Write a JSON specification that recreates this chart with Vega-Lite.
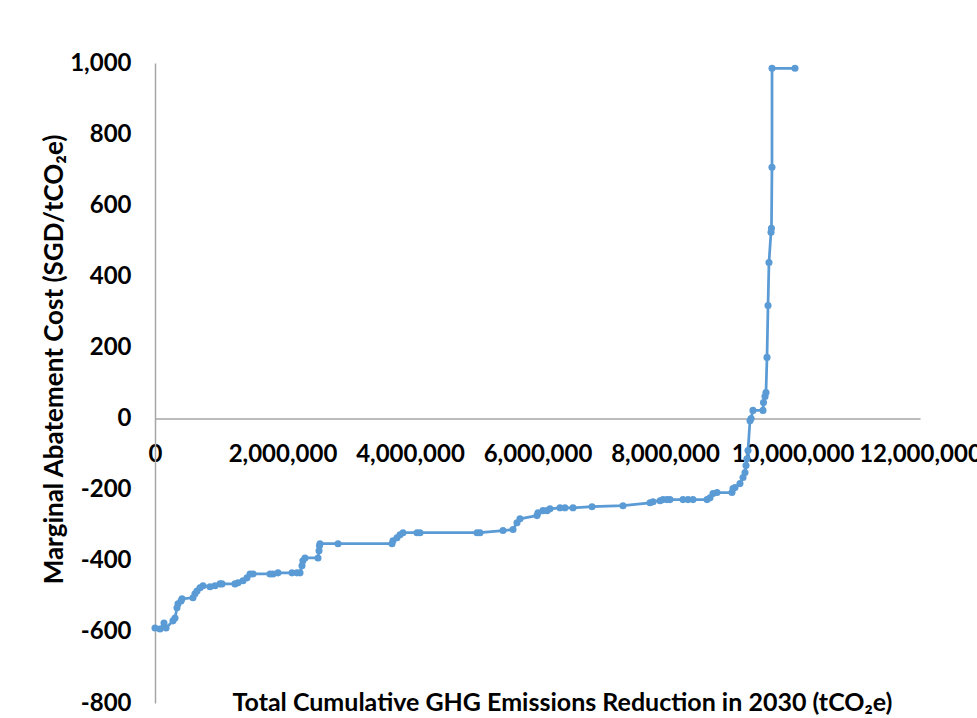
{
  "$schema": "https://vega.github.io/schema/vega-lite/v6.json",
  "width": 765,
  "height": 640,
  "autosize": {"type": "none"},
  "padding": {"left": 155, "top": 63, "right": 57, "bottom": 15},
  "background": "white",
  "data": {
    "values": [
      {"reduction": 0, "cost": -589},
      {"reduction": 78000, "cost": -592},
      {"reduction": 141000, "cost": -575},
      {"reduction": 173000, "cost": -589},
      {"reduction": 282000, "cost": -569},
      {"reduction": 314000, "cost": -561},
      {"reduction": 345000, "cost": -532},
      {"reduction": 361000, "cost": -521},
      {"reduction": 408000, "cost": -513},
      {"reduction": 424000, "cost": -507},
      {"reduction": 596000, "cost": -504},
      {"reduction": 627000, "cost": -493},
      {"reduction": 659000, "cost": -485},
      {"reduction": 706000, "cost": -476},
      {"reduction": 753000, "cost": -470},
      {"reduction": 863000, "cost": -473},
      {"reduction": 941000, "cost": -470},
      {"reduction": 1020000, "cost": -465},
      {"reduction": 1051000, "cost": -465},
      {"reduction": 1255000, "cost": -465},
      {"reduction": 1302000, "cost": -462},
      {"reduction": 1380000, "cost": -456},
      {"reduction": 1443000, "cost": -448},
      {"reduction": 1490000, "cost": -437},
      {"reduction": 1537000, "cost": -437},
      {"reduction": 1804000, "cost": -437},
      {"reduction": 1851000, "cost": -437},
      {"reduction": 1929000, "cost": -434},
      {"reduction": 2149000, "cost": -434},
      {"reduction": 2227000, "cost": -434},
      {"reduction": 2275000, "cost": -434},
      {"reduction": 2306000, "cost": -414},
      {"reduction": 2320000, "cost": -400},
      {"reduction": 2353000, "cost": -392},
      {"reduction": 2557000, "cost": -392},
      {"reduction": 2573000, "cost": -372},
      {"reduction": 2580000, "cost": -358},
      {"reduction": 2588000, "cost": -352},
      {"reduction": 2871000, "cost": -352},
      {"reduction": 3718000, "cost": -352},
      {"reduction": 3733000, "cost": -344},
      {"reduction": 3796000, "cost": -335},
      {"reduction": 3843000, "cost": -327},
      {"reduction": 3890000, "cost": -321},
      {"reduction": 4110000, "cost": -321},
      {"reduction": 4157000, "cost": -321},
      {"reduction": 5051000, "cost": -321},
      {"reduction": 5098000, "cost": -321},
      {"reduction": 5459000, "cost": -315},
      {"reduction": 5616000, "cost": -312},
      {"reduction": 5678000, "cost": -293},
      {"reduction": 5725000, "cost": -282},
      {"reduction": 5992000, "cost": -273},
      {"reduction": 6008000, "cost": -265},
      {"reduction": 6086000, "cost": -259},
      {"reduction": 6149000, "cost": -259},
      {"reduction": 6196000, "cost": -254},
      {"reduction": 6353000, "cost": -251},
      {"reduction": 6431000, "cost": -251},
      {"reduction": 6557000, "cost": -251},
      {"reduction": 6855000, "cost": -248},
      {"reduction": 7341000, "cost": -245},
      {"reduction": 7765000, "cost": -237},
      {"reduction": 7812000, "cost": -234},
      {"reduction": 7922000, "cost": -231},
      {"reduction": 7969000, "cost": -228},
      {"reduction": 8031000, "cost": -228},
      {"reduction": 8078000, "cost": -228},
      {"reduction": 8282000, "cost": -228},
      {"reduction": 8361000, "cost": -228},
      {"reduction": 8439000, "cost": -228},
      {"reduction": 8659000, "cost": -228},
      {"reduction": 8706000, "cost": -223},
      {"reduction": 8753000, "cost": -211},
      {"reduction": 8816000, "cost": -208},
      {"reduction": 9051000, "cost": -208},
      {"reduction": 9067000, "cost": -197},
      {"reduction": 9098000, "cost": -194},
      {"reduction": 9176000, "cost": -183},
      {"reduction": 9224000, "cost": -166},
      {"reduction": 9255000, "cost": -152},
      {"reduction": 9271000, "cost": -132},
      {"reduction": 9286000, "cost": -113},
      {"reduction": 9302000, "cost": -90},
      {"reduction": 9333000, "cost": -6},
      {"reduction": 9350000, "cost": 0},
      {"reduction": 9380000, "cost": 23},
      {"reduction": 9537000, "cost": 23},
      {"reduction": 9545000, "cost": 45},
      {"reduction": 9569000, "cost": 62},
      {"reduction": 9584000, "cost": 73},
      {"reduction": 9600000, "cost": 172},
      {"reduction": 9616000, "cost": 318},
      {"reduction": 9631000, "cost": 439},
      {"reduction": 9663000, "cost": 524},
      {"reduction": 9670000, "cost": 535},
      {"reduction": 9678000, "cost": 707},
      {"reduction": 9679000, "cost": 985},
      {"reduction": 10039000, "cost": 985}
    ]
  },
  "mark": {
    "type": "line",
    "color": "#5B9BD5",
    "strokeWidth": 2.75,
    "point": {"filled": true, "size": 50, "color": "#5B9BD5"}
  },
  "encoding": {
    "x": {
      "field": "reduction",
      "type": "quantitative",
      "scale": {"domain": [0, 12000000], "nice": false, "zero": true},
      "axis": {
        "orient": "bottom",
        "offset": -284.4,
        "values": [0, 2000000, 4000000, 6000000, 8000000, 10000000, 12000000],
        "format": ",.0f",
        "grid": false,
        "ticks": false,
        "tickSize": 0,
        "domainColor": "#A6A6A6",
        "domainWidth": 1.5,
        "labelPadding": 24,
        "labelFont": "Lato",
        "labelFontWeight": "bold",
        "labelFontSize": 24,
        "labelColor": "#000000",
        "labelOverlap": false,
        "labelFlush": false,
        "title": "Total Cumulative GHG Emissions Reduction in 2030 (tCO₂e)",
        "titleFont": "Lato",
        "titleFontWeight": "bold",
        "titleFontSize": 25,
        "titleColor": "#000000",
        "titleX": 407,
        "titleY": 292,
        "titleBaseline": "alphabetic"
      }
    },
    "y": {
      "field": "cost",
      "type": "quantitative",
      "scale": {"domain": [-800, 1000], "nice": false},
      "axis": {
        "values": [-800, -600, -400, -200, 0, 200, 400, 600, 800, 1000],
        "labelExpr": "(datum.value < 0 ? '-' : '') + format(abs(datum.value), ',.0f')",
        "grid": false,
        "ticks": false,
        "tickSize": 0,
        "domainColor": "#A6A6A6",
        "domainWidth": 1.5,
        "labelPadding": 24,
        "labelFont": "Lato",
        "labelFontWeight": "bold",
        "labelFontSize": 24,
        "labelColor": "#000000",
        "labelOverlap": false,
        "labelFlush": false,
        "title": "Marginal Abatement Cost (SGD/tCO₂e)",
        "titleFont": "Lato",
        "titleFontWeight": "bold",
        "titleFontSize": 26,
        "titleColor": "#000000",
        "titleAngle": -90,
        "titleX": -93,
        "titleY": 296,
        "titleBaseline": "alphabetic"
      }
    }
  },
  "config": {
    "view": {"stroke": null}
  }
}
